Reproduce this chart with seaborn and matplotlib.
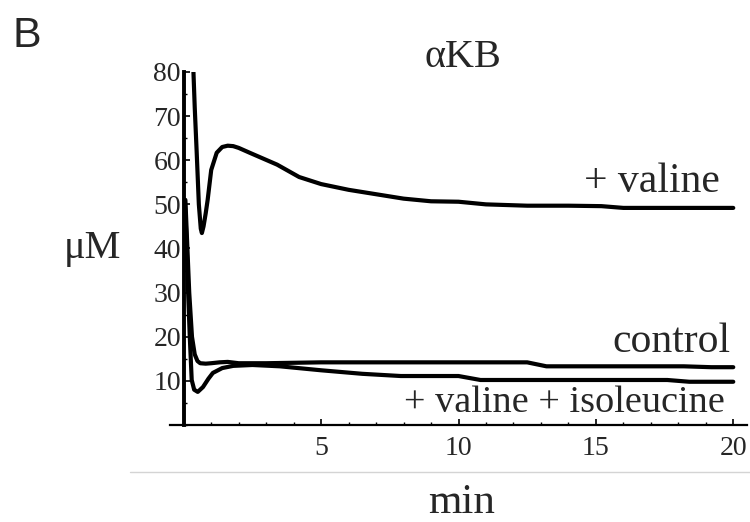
import matplotlib
matplotlib.use("Agg")
import matplotlib.pyplot as plt
from matplotlib.lines import Line2D
from matplotlib.ticker import MultipleLocator, FixedLocator
import seaborn as sns
import pandas as pd

# ---- data ----
t_valine = [0.33, 0.40, 0.47, 0.55, 0.62, 0.66, 0.72, 0.80, 0.87, 1.0, 1.2, 1.4, 1.6, 1.8,
            2.0, 2.4, 3.4, 4.2, 5.0, 6.0, 7.0, 8.0, 9.0, 10.0, 11.0, 12.5, 14.0, 15.2,
            16.0, 18.0, 20.0]
v_valine = [84, 72, 62, 50, 44.5, 43.5, 45, 48, 51, 57.8, 61.7, 63, 63.3, 63.2,
            62.8, 61.7, 59, 56.2, 54.6, 53.3, 52.3, 51.3, 50.7, 50.6, 50.0, 49.7, 49.7, 49.6,
            49.2, 49.2, 49.2]

t_control = [0.06, 0.12, 0.2, 0.3, 0.4, 0.5, 0.6, 0.8, 1.0, 1.3, 1.6, 2.0, 3, 4, 5, 7,
             9, 10, 12.5, 13.2, 16, 18.2, 19.2, 20]
v_control = [51, 42, 30, 20, 16.0, 14.5, 14.0, 13.9, 14.0, 14.2, 14.3, 14.0, 14.0, 14.1,
             14.2, 14.2, 14.2, 14.2, 14.2, 13.3, 13.3, 13.3, 13.1, 13.1]

t_valile = [0.04, 0.1, 0.16, 0.22, 0.29, 0.38, 0.51, 0.7, 0.9, 1.06, 1.4, 1.8, 2.5, 3.5,
            5, 6.5, 7.9, 10, 10.8, 14, 17.6, 18.4, 20]
v_valile = [51, 42, 30, 20, 10.2, 8.0, 7.5, 8.6, 10.5, 11.8, 12.9, 13.4, 13.6, 13.3,
            12.4, 11.6, 11.1, 11.1, 10.2, 10.2, 10.2, 9.8, 9.8]

series_names = ["+ valine", "control", "+ valine + isoleucine"]
x_ticks = [5, 10, 15, 20]
y_ticks = [10, 20, 30, 40, 50, 60, 70, 80]

rows = []
for name, ts, vs in zip(series_names, [t_valine, t_control, t_valile],
                        [v_valine, v_control, v_valile]):
    for t, v in zip(ts, vs):
        rows.append({"min": t, "uM": v, "series": name})
df = pd.DataFrame(rows)

sns.set_style("ticks")
plt.rcParams["font.family"] = ["Liberation Serif", "DejaVu Serif"]

fig = plt.figure(figsize=(7.5, 5.22), dpi=100)
ax = fig.add_axes([170 / 750, 1 - 425 / 522, (747 - 170) / 750, (425 - 72) / 522])

sns.lineplot(data=df, x="min", y="uM", hue="series", units="series", estimator=None,
             sort=False, palette=["black"] * 3, linewidth=3.0, legend=False, ax=ax)

ax.set_xlim(-0.5, 20.5)
ax.set_ylim(0, 80)
ax.set_xlabel("")
ax.set_ylabel("")

for s in ["top", "right"]:
    ax.spines[s].set_visible(False)
ax.spines["left"].set_position(("data", 0))
ax.spines["left"].set_linewidth(2.8)
ax.spines["bottom"].set_linewidth(1.6)
ax.spines["left"].set_color("black")
ax.spines["bottom"].set_color("black")

ax.xaxis.set_major_locator(FixedLocator(x_ticks))
ax.xaxis.set_minor_locator(MultipleLocator(1))
ax.yaxis.set_major_locator(FixedLocator(y_ticks))
ax.yaxis.set_minor_locator(MultipleLocator(5))
ax.tick_params(axis="both", which="major", direction="in", length=4, width=1.2,
               labelsize=20, color="black")
ax.tick_params(axis="both", which="minor", direction="in", length=2.5, width=1.0,
               color="black")
ax.tick_params(axis="x", which="major", pad=8)
ax.tick_params(axis="y", which="major", pad=2)

# texts
fig.text(13 / 750, 1 - 47 / 522, "B", fontsize=31, family="Liberation Sans",
         va="baseline", ha="left")
fig.text(463 / 750, 1 - 67 / 522, "αKB", fontsize=29, va="baseline", ha="center")
fig.text(92 / 750, 1 - 258 / 522, "μM", fontsize=29, va="baseline", ha="center")
fig.text(720 / 750, 1 - 192 / 522, "+ valine", fontsize=30, va="baseline", ha="right")
fig.text(730 / 750, 1 - 352 / 522, "control", fontsize=30, va="baseline", ha="right")
fig.text(725 / 750, 1 - 412 / 522, "+ valine + isoleucine", fontsize=27.5,
         va="baseline", ha="right")
fig.text(462 / 750, 1 - 513 / 522, "min", fontsize=31, va="baseline", ha="center")

fig.add_artist(Line2D([130 / 750, 1.0], [1 - 472 / 522] * 2, color="#d4d4d4", lw=1.0))

fig.savefig("out.png", dpi=100)
